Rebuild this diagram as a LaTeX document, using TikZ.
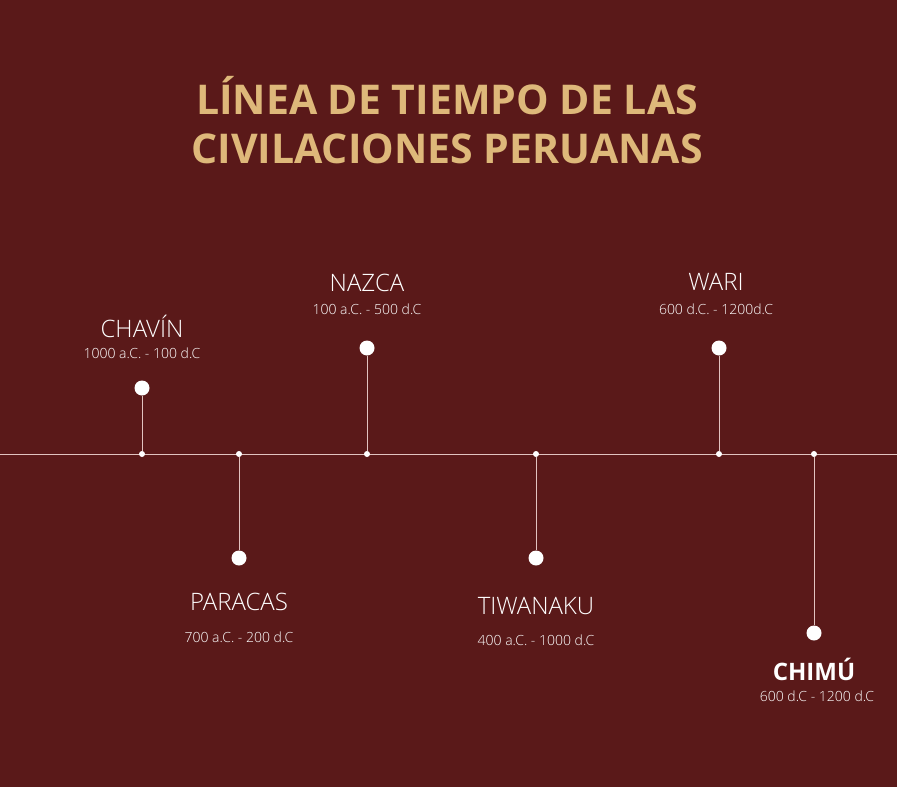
\documentclass[tikz,border=0pt]{standalone}
\usepackage{fontspec}
\setmainfont{Open Sans}
\newfontfamily\lightfont{Open Sans Light}
\usetikzlibrary{positioning}
\definecolor{bgred}{RGB}{90,25,25}
\definecolor{titletan}{RGB}{222,184,122}
\definecolor{axispink}{RGB}{225,195,192}

\begin{document}
\begin{tikzpicture}[x=1pt, y=-1pt,
          bigdot/.style={circle, fill=white, inner sep=0pt, minimum size=15pt},
          tick/.style={circle, fill=white, inner sep=0pt, minimum size=6pt},
          era/.style={text=white, font=\lightfont\fontsize{24}{26}\selectfont},
          dates/.style={text=white, font=\lightfont\fontsize{14}{16}\selectfont},
          stem/.style={axispink, line width=0.9pt}]
        \fill[bgred] (0,0) rectangle (897,787);
        \useasboundingbox (0,0) rectangle (897,787);
        \node[text=titletan, font=\bfseries\fontsize{41}{49}\selectfont, align=center] (title) at (447,120)
          {LÍNEA DE TIEMPO DE LAS\\CIVILACIONES PERUANAS};
        \coordinate (L) at (0,454); \coordinate (R) at (897,454);
        \draw[stem] (L) -- (R);
        % puntos sobre la linea
        \node[tick] (t1) at (142,454) {}; \node[tick] (t2) at (239,454) {};
        \node[tick] (t3) at (367,454) {}; \node[tick] (t4) at (536,454) {};
        \node[tick] (t5) at (719,454) {}; \node[tick] (t6) at (814,454) {};
        % culturas
        \node[bigdot] (chavin)   at (142,388) {};
        \node[bigdot] (paracas)  at (239,558) {};
        \node[bigdot] (nazca)    at (367,348) {};
        \node[bigdot] (tiwanaku) at (536,558) {};
        \node[bigdot] (wari)     at (719,348) {};
        \node[bigdot] (chimu)    at (814,633) {};
        \draw[stem] (chavin)--(t1); \draw[stem] (paracas)--(t2); \draw[stem] (nazca)--(t3);
        \draw[stem] (tiwanaku)--(t4); \draw[stem] (wari)--(t5); \draw[stem] (chimu)--(t6);
        \node[era]   (chavinN)   at (142,326) {CHAVÍN};
        \node[dates] (chavinD)   at (142,353) {1000 a.C. - 100 d.C};
        \node[era]   (paracasN)  at (239,602) {PARACAS};
        \node[dates] (paracasD)  at (239,637) {700 a.C. - 200 d.C};
        \node[era]   (nazcaN)    at (367,283) {NAZCA};
        \node[dates] (nazcaD)    at (367,309) {100 a.C. - 500 d.C};
        \node[era]   (tiwanakuN) at (536,606) {TIWANAKU};
        \node[dates] (tiwanakuD) at (536,640) {400 a.C. - 1000 d.C};
        \node[era]   (wariN)     at (716,282) {WARI};
        \node[dates] (wariD)     at (716,309) {600 d.C. - 1200d.C};
        \node[text=white, font=\bfseries\fontsize{24}{26}\selectfont] (chimuN) at (814,669) {CHIMÚ};
        \node[dates] (chimuD)    at (817,696) {600 d.C - 1200 d.C};
      \end{tikzpicture}
\end{document}
